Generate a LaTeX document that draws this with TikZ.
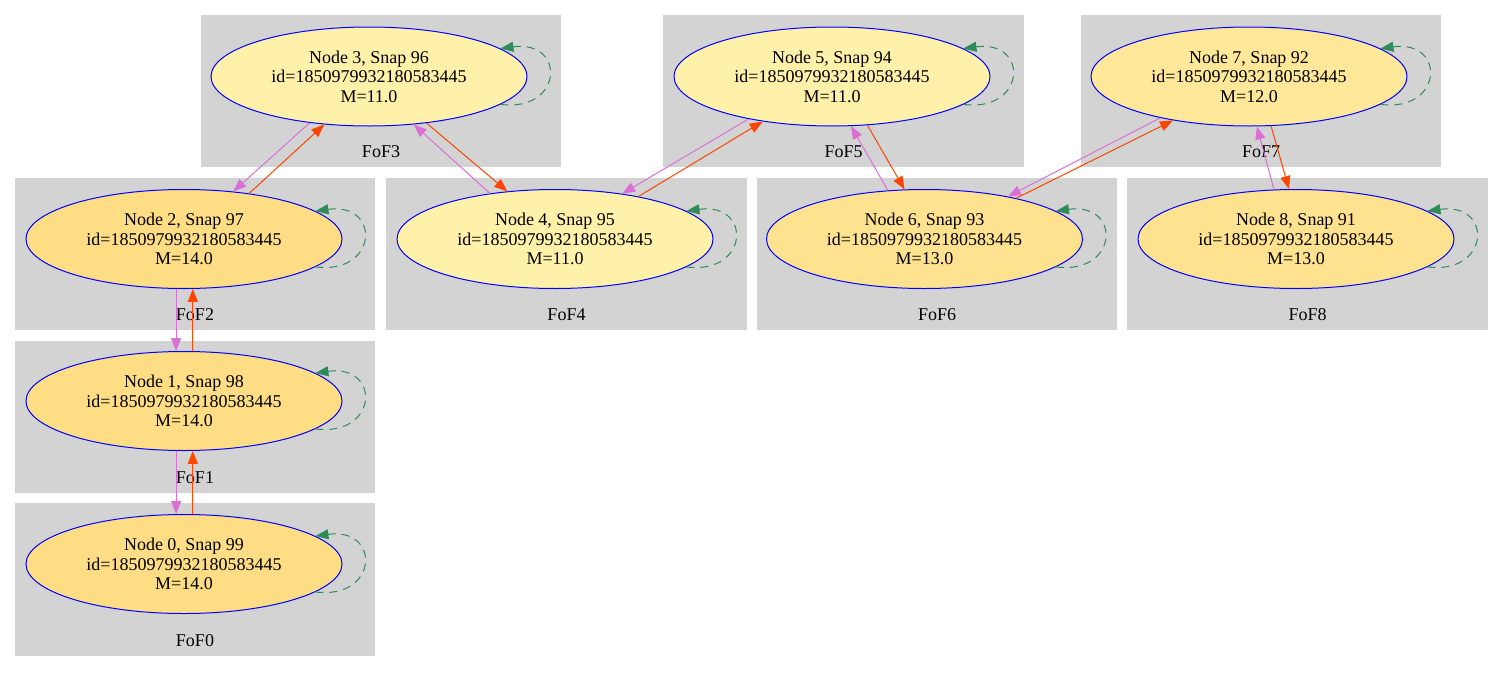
\documentclass[tikz,border=0pt]{standalone}
\usepackage{fontspec}
\setmainfont{Liberation Serif}
\usetikzlibrary{shapes.geometric,arrows.meta}

\definecolor{clusterbg}{HTML}{D3D3D3}
\definecolor{mEleven}{HTML}{FFF0AA}
\definecolor{mTwelve}{HTML}{FFE899}
\definecolor{mThirteen}{HTML}{FFE28F}
\definecolor{mFourteen}{HTML}{FFDD85}
\definecolor{progcol}{HTML}{FF4500}
\definecolor{desccol}{HTML}{DA70D6}
\definecolor{loopcol}{HTML}{2E8B57}

\tikzset{
  fofbox/.style={fill=clusterbg, draw=none},
  foflabel/.style={font=\fontsize{18}{19.5}\selectfont, inner sep=0pt},
  halo/.style={ellipse, draw=blue, line width=1pt, minimum width=316pt,
    minimum height=99pt, inner sep=0pt, align=center,
    font=\fontsize{18}{19.5}\selectfont},
  tipstyle/.style={-{Triangle[length=13pt,width=10pt]}},
  progedge/.style={tipstyle, draw=progcol, line width=1pt},
  descedge/.style={tipstyle, draw=desccol, line width=1pt},
  selfedge/.style={tipstyle, draw=loopcol, line width=1pt,
    dash pattern=on 8pt off 6pt},
}

\begin{document}
\begin{tikzpicture}[x=1pt, y=-1pt]
\useasboundingbox (0,0) rectangle (1504,672);

% clusters: box and caption
\foreach \nm/\xa/\ya/\xb/\yb in {
    FoF0/15/503/375/656, FoF1/15/341/375/493, FoF2/15/178/375/330,
    FoF3/201/15/561/167, FoF4/386/178/747/330, FoF5/663/15/1024/167,
    FoF6/757/178/1117/330, FoF7/1081/15/1441/167, FoF8/1127/178/1488/330} {
  \fill[fofbox] (\xa,\ya) rectangle (\xb,\yb);
  \node[foflabel] (lbl\nm) at ({(\xa+\xb)/2},{\yb-15}) {\nm};
}

% halos
\node[halo, fill=mFourteen] (n0) at (184,564) {Node 0, Snap 99\\id=1850979932180583445\\M=14.0};
\node[halo, fill=mFourteen] (n1) at (184,401) {Node 1, Snap 98\\id=1850979932180583445\\M=14.0};
\node[halo, fill=mFourteen] (n2) at (184,239) {Node 2, Snap 97\\id=1850979932180583445\\M=14.0};
\node[halo, fill=mEleven] (n3) at (369,76.5) {Node 3, Snap 96\\id=1850979932180583445\\M=11.0};
\node[halo, fill=mEleven] (n4) at (555,239) {Node 4, Snap 95\\id=1850979932180583445\\M=11.0};
\node[halo, fill=mEleven] (n5) at (832,76.5) {Node 5, Snap 94\\id=1850979932180583445\\M=11.0};
\node[halo, fill=mThirteen] (n6) at (924.5,239) {Node 6, Snap 93\\id=1850979932180583445\\M=13.0};
\node[halo, fill=mTwelve] (n7) at (1249,76.5) {Node 7, Snap 92\\id=1850979932180583445\\M=12.0};
\node[halo, fill=mThirteen] (n8) at (1296,239) {Node 8, Snap 91\\id=1850979932180583445\\M=13.0};

% self loops
\foreach \n in {n0,n1,n2,n3,n4,n5,n6,n7,n8}
  \draw[selfedge] (\n.-12.5) .. controls +(63,8) and +(66,-9) .. (\n.12.5);

% descendant links
\draw[descedge] (n3.218) -- (n2.44);
\draw[descedge] (n4.145) -- (n3.313);
\draw[descedge] (n5.207) -- (n4.34);
\draw[descedge] (n6.127) -- (n5.291);
\draw[descedge] (n7.205) -- (n6.27);
\draw[descedge] (n8.114) -- (n7.279);
\draw[descedge] (n2.261) -- (n1.99);
\draw[descedge] (n1.261) -- (n0.99);

% progenitor links
\draw[progedge] (n2.35) -- (n3.227);
\draw[progedge] (n3.321) -- (n4.135);
\draw[progedge] (n4.27.7) -- (n5.213.4);
\draw[progedge] (n5.306) -- (n6.112);
\draw[progedge] (n6.24.5) -- (n7.210);
\draw[progedge] (n7.294) -- (n8.98);
\draw[progedge] (n1.80) -- (n2.280);
\draw[progedge] (n0.80) -- (n1.280);
\end{tikzpicture}
\end{document}
